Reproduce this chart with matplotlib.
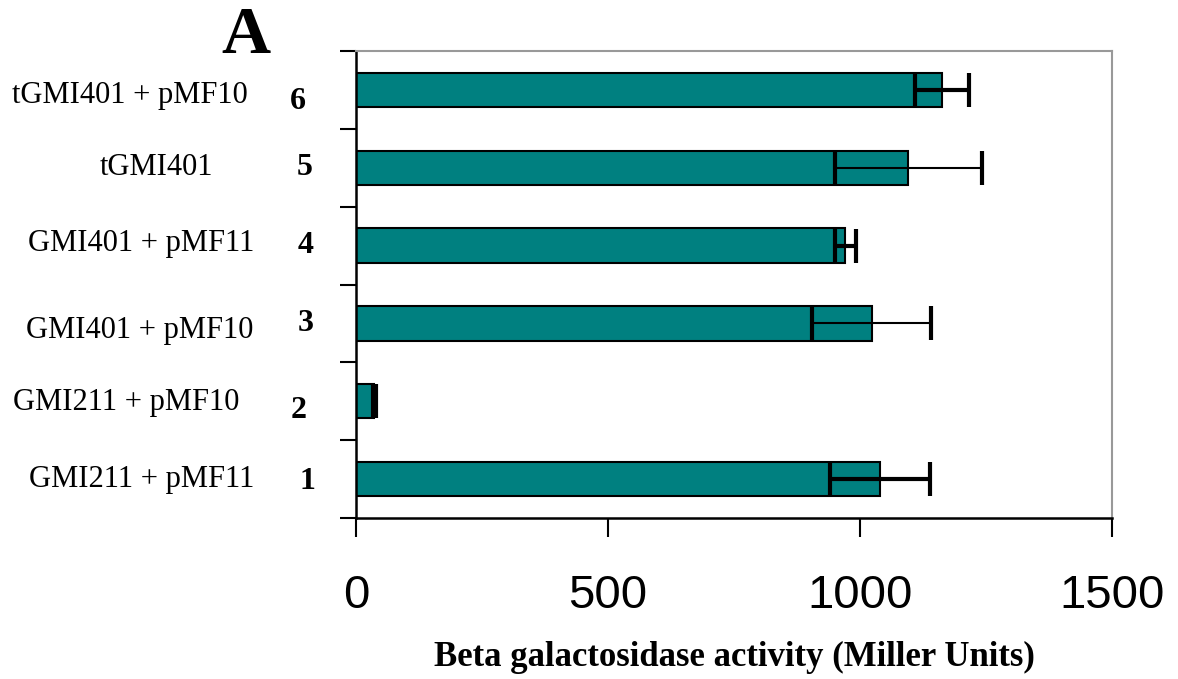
import matplotlib
matplotlib.use("Agg")
import matplotlib.pyplot as plt

# ---- data ----
strains = ["GMI211 + pMF11", "GMI211 + pMF10", "GMI401 + pMF10",
           "GMI401 + pMF11", "tGMI401", "tGMI401 + pMF10"]
numbers = ["1", "2", "3", "4", "5", "6"]
activity = [1040, 36, 1023, 971, 1096, 1163]
errors = [99, 3, 118, 21, 146, 54]
xticks = [0, 500, 1000, 1500]
xlabel = "Beta galactosidase activity (Miller Units)"
panel = "A"

# ---- style / layout ----
W, H, DPI = 11.78, 6.79, 100
bar_color = "#008080"
err_lw = [3.0, 2.0, 1.5, 3.0, 1.5, 3.0]
name_x = [142, 126, 140, 141, 157, 130]      # figure pixels (centre)
name_dy = [0, 1, 7, -2, 0, 6]                # pixel offsets down
num_x = [307, 299, 306, 306, 305, 298]
num_dy = [2, 9, 0, 0, 0, 12]

fig = plt.figure(figsize=(W, H), dpi=DPI)
ax = fig.add_axes([356 / 1178, 1 - 518 / 679, (1112 - 356) / 1178, (518 - 51) / 679])

ypos = list(range(len(strains)))
ax.barh(ypos, activity, height=0.44, color=bar_color, edgecolor="black",
        linewidth=1.5, zorder=2)
for y, v, e, lw in zip(ypos, activity, errors, err_lw):
    ax.errorbar(v, y, xerr=e, fmt="none", ecolor="black", elinewidth=lw,
                capsize=12, capthick=3, zorder=3)

ax.set_xlim(0, 1500)
ax.set_ylim(-0.5, len(strains) - 0.5)
ax.set_xticks(xticks)
ax.set_xticklabels([str(t) for t in xticks], fontsize=34,
                   family="Liberation Sans")
ax.set_yticks([i - 0.5 for i in range(len(strains) + 1)])
ax.set_yticklabels([])
ax.tick_params(axis="y", direction="out", length=11.5, width=1.5, color="black")
ax.tick_params(axis="x", direction="out", length=14, width=1.5, color="black",
               pad=26)
for s in ["left", "bottom"]:
    ax.spines[s].set_linewidth(1.8)
    ax.spines[s].set_color("black")
for s in ["top", "right"]:
    ax.spines[s].set_linewidth(1.5)
    ax.spines[s].set_color("#999999")

ax.set_xlabel(xlabel, fontsize=25, fontweight="bold",
              family="Liberation Serif", labelpad=17)

# row labels
for i, (name, num) in enumerate(zip(strains, numbers)):
    ydisp = ax.transData.transform((0, i))[1]
    fig.text(name_x[i] / (W * DPI), (ydisp - name_dy[i]) / (H * DPI), name,
             ha="center", va="center", fontsize=22, family="Liberation Serif")
    fig.text(num_x[i] / (W * DPI), (ydisp - num_dy[i]) / (H * DPI), num,
             ha="center", va="center", fontsize=23, fontweight="bold",
             family="Liberation Serif")

fig.text(246 / 1178, 1 - 53 / 679, panel, ha="center", va="baseline",
         fontsize=49, fontweight="bold", family="Liberation Serif")

fig.savefig("out.png", dpi=DPI)
